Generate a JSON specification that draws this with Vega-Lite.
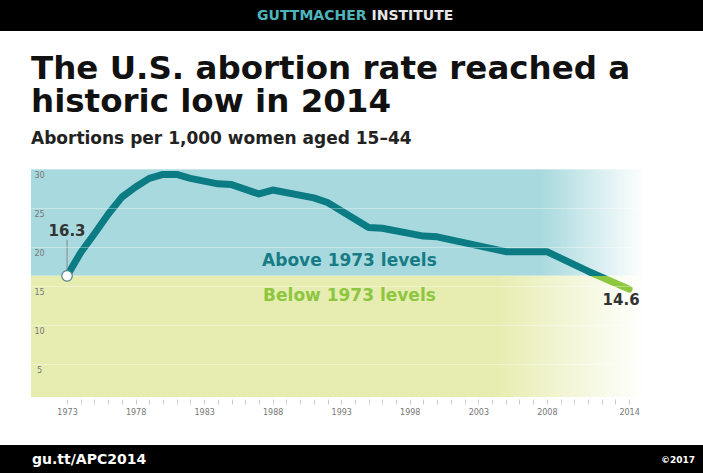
{
  "$schema": "https://vega.github.io/schema/vega-lite/v6.json",
  "background": "white",
  "padding": 0,
  "spacing": 21,
  "config": {"view": {"stroke": null}, "font": "DejaVu Sans"},
  "vconcat": [
    {
      "width": 703,
      "height": 31,
      "view": {"fill": "black", "stroke": null},
      "layer": [
        {
          "data": {"values": [{"t": "GUTTMACHER"}]},
          "mark": {"type": "text", "align": "right", "dx": 15, "font": "DejaVu Sans", "fontWeight": "bold", "fontSize": 14, "color": "#4db6bd"},
          "encoding": {"text": {"field": "t"}}
        },
        {
          "data": {"values": [{"t": "INSTITUTE"}]},
          "mark": {"type": "text", "align": "left", "dx": 20, "font": "DejaVu Sans", "fontWeight": "bold", "fontSize": 14, "color": "#e6e6e6"},
          "encoding": {"text": {"field": "t"}}
        }
      ]
    },
    {
      "width": 703,
      "height": 228,
      "title": {
        "text": ["The U.S. abortion rate reached a", "historic low in 2014"],
        "subtitle": "Abortions per 1,000 women aged 15–44",
        "anchor": "start",
        "frame": "group",
        "dx": 31,
        "offset": 22,
        "font": "DejaVu Sans",
        "fontSize": 32.5,
        "fontWeight": "bold",
        "lineHeight": 33,
        "color": "#111111",
        "subtitleFont": "DejaVu Sans",
        "subtitleFontSize": 17,
        "subtitleFontWeight": "bold",
        "subtitleColor": "#222222",
        "subtitlePadding": 13
      },
      "layer": [
        {
          "data": {"values": [{"zone": "Above 1973 levels", "low": 16.3, "high": 30}]},
          "mark": {"type": "rect", "clip": true, "fill": {"gradient": "linear", "x1": 0, "y1": 0, "x2": 1, "y2": 0, "stops": [{"offset": 0, "color": "#a8d9de"}, {"offset": 0.83, "color": "#a8d9de"}, {"offset": 1, "color": "#ffffff"}]}},
          "encoding": {
            "x": {"datum": 1970.37, "type": "quantitative", "scale": {"domain": [1968.11, 2019.39], "nice": false, "zero": false}, "axis": {"title": null}},
            "x2": {"datum": 2015.16},
            "y": {"field": "low", "type": "quantitative", "scale": {"domain": [0.77, 30], "nice": false, "zero": false}, "axis": {"title": null}},
            "y2": {"field": "high"}
          }
        },
        {
          "data": {"values": [{"zone": "Below 1973 levels", "low": 0, "high": 16.3}]},
          "mark": {"type": "rect", "clip": true, "fill": {"gradient": "linear", "x1": 0, "y1": 0, "x2": 1, "y2": 0, "stops": [{"offset": 0, "color": "#e7edb1"}, {"offset": 0.76, "color": "#e7edb1"}, {"offset": 1, "color": "#ffffff"}]}},
          "encoding": {
            "x": {"datum": 1970.37, "type": "quantitative", "axis": {"title": null}},
            "x2": {"datum": 2015.16},
            "y": {"field": "low", "type": "quantitative", "axis": {"title": null}},
            "y2": {"field": "high"}
          }
        },
        {
          "data": {"values": [{"label": "Above 1973 levels", "level": 16.3}]},
          "mark": {"type": "text", "dy": -15, "font": "DejaVu Sans", "fontWeight": "bold", "fontSize": 17, "color": "#177c85"},
          "encoding": {
            "x": {"datum": 1993.6, "type": "quantitative", "axis": {"title": null}},
            "y": {"field": "level", "type": "quantitative", "axis": {"title": null}},
            "text": {"field": "label"}
          }
        },
        {
          "data": {"values": [{"label": "Below 1973 levels", "level": 16.3}]},
          "mark": {"type": "text", "dy": 20, "font": "DejaVu Sans", "fontWeight": "bold", "fontSize": 17, "color": "#8dc63f"},
          "encoding": {
            "x": {"datum": 1993.6, "type": "quantitative", "axis": {"title": null}},
            "y": {"field": "level", "type": "quantitative", "axis": {"title": null}},
            "text": {"field": "label"}
          }
        },
        {
          "data": {"values": [
            {"year": 1973, "rate": 16.3}, {"year": 1974, "rate": 19.3}, {"year": 1975, "rate": 21.7},
            {"year": 1976, "rate": 24.2}, {"year": 1977, "rate": 26.4}, {"year": 1978, "rate": 27.7},
            {"year": 1979, "rate": 28.8}, {"year": 1980, "rate": 29.3}, {"year": 1981, "rate": 29.3},
            {"year": 1982, "rate": 28.8}, {"year": 1984, "rate": 28.1}, {"year": 1985, "rate": 28.0},
            {"year": 1987, "rate": 26.8}, {"year": 1988, "rate": 27.3}, {"year": 1991, "rate": 26.3},
            {"year": 1992, "rate": 25.7}, {"year": 1995, "rate": 22.5}, {"year": 1996, "rate": 22.4},
            {"year": 1999, "rate": 21.4}, {"year": 2000, "rate": 21.3}, {"year": 2005, "rate": 19.4},
            {"year": 2008, "rate": 19.4}, {"year": 2011, "rate": 16.9}, {"year": 2014, "rate": 14.6}
          ]},
          "mark": {
            "type": "line",
            "strokeWidth": 7,
            "strokeJoin": "round",
            "strokeCap": "round",
            "stroke": {"gradient": "linear", "x1": 0, "y1": 0, "x2": 0, "y2": 1, "stops": [{"offset": 0, "color": "#0b7b84"}, {"offset": 0.884, "color": "#0b7b84"}, {"offset": 0.886, "color": "#8dc63f"}, {"offset": 1, "color": "#8dc63f"}]}
          },
          "encoding": {
            "x": {
              "field": "year", "type": "quantitative",
              "axis": {
                "title": null,
                "values": [1973, 1974, 1975, 1976, 1977, 1978, 1979, 1980, 1981, 1982, 1983, 1984, 1985, 1986, 1987, 1988, 1989, 1990, 1991, 1992, 1993, 1994, 1995, 1996, 1997, 1998, 1999, 2000, 2001, 2002, 2003, 2004, 2005, 2006, 2007, 2008, 2009, 2010, 2011, 2012, 2013, 2014],
                "tickCount": 100,
                "format": "d",
                "labelExpr": "indexof([1973, 1978, 1983, 1988, 1993, 1998, 2003, 2008, 2014], datum.value) >= 0 ? datum.label : ''",
                "domain": false,
                "grid": false,
                "ticks": true,
                "tickSize": 5,
                "tickColor": "#cccccc",
                "offset": 2,
                "labelPadding": 4,
                "labelFont": "DejaVu Sans",
                "labelFontSize": 8,
                "labelColor": "#777777",
                "labelOverlap": false,
                "labelFlush": false,
                "minExtent": 25
              }
            },
            "y": {
              "field": "rate", "type": "quantitative",
              "axis": {
                "title": null,
                "values": [5, 10, 15, 20, 25, 30],
                "domain": false,
                "ticks": false,
                "tickSize": 0,
                "labelPadding": -39,
                "labelAlign": "center",
                "labelBaseline": "top",
                "labelOffset": 2,
                "labelFont": "DejaVu Sans",
                "labelFontSize": 8,
                "labelColor": "#777777",
                "grid": true,
                "gridColor": "#ffffff",
                "gridOpacity": 0.35,
                "zindex": 1,
                "minExtent": 0
              }
            }
          }
        },
        {
          "data": {"values": [{"year": 1973, "rate": 16.3}]},
          "mark": {"type": "rule", "color": "#8a8a8a", "strokeWidth": 1, "y2Offset": -36},
          "encoding": {
            "x": {"field": "year", "type": "quantitative", "axis": {"title": null}},
            "y": {"field": "rate", "type": "quantitative", "axis": {"title": null}},
            "y2": {"field": "rate"}
          }
        },
        {
          "data": {"values": [{"year": 1973, "rate": 16.3}]},
          "mark": {"type": "point", "filled": true, "fill": "#ffffff", "stroke": "#4f7f83", "strokeWidth": 1.2, "size": 110, "opacity": 1},
          "encoding": {
            "x": {"field": "year", "type": "quantitative", "axis": {"title": null}},
            "y": {"field": "rate", "type": "quantitative", "axis": {"title": null}}
          }
        },
        {
          "data": {"values": [{"year": 1973, "rate": 16.3}]},
          "mark": {"type": "text", "dy": -45, "font": "DejaVu Sans", "fontWeight": "bold", "fontSize": 15, "color": "#333333"},
          "encoding": {
            "x": {"field": "year", "type": "quantitative", "axis": {"title": null}},
            "y": {"field": "rate", "type": "quantitative", "axis": {"title": null}},
            "text": {"field": "rate", "type": "quantitative", "format": ".1f"}
          }
        },
        {
          "data": {"values": [{"year": 2014, "rate": 14.6}]},
          "mark": {"type": "text", "dx": -8, "dy": 11, "font": "DejaVu Sans", "fontWeight": "bold", "fontSize": 15, "color": "#333333"},
          "encoding": {
            "x": {"field": "year", "type": "quantitative", "axis": {"title": null}},
            "y": {"field": "rate", "type": "quantitative", "axis": {"title": null}},
            "text": {"field": "rate", "type": "quantitative", "format": ".1f"}
          }
        }
      ]
    },
    {
      "width": 703,
      "height": 30,
      "view": {"fill": "black", "stroke": null},
      "layer": [
        {
          "data": {"values": [{"t": "gu.tt/APC2014", "side": "left"}]},
          "mark": {"type": "text", "align": "left", "dx": 32, "font": "DejaVu Sans", "fontWeight": "bold", "fontSize": 14, "color": "#ffffff"},
          "encoding": {
            "x": {"field": "side", "type": "nominal", "scale": {"type": "point", "domain": ["left", "right"], "padding": 0}, "axis": null},
            "text": {"field": "t"}
          }
        },
        {
          "data": {"values": [{"t": "©2017", "side": "right"}]},
          "mark": {"type": "text", "align": "right", "dx": -8, "font": "DejaVu Sans", "fontWeight": "bold", "fontSize": 9, "color": "#ffffff"},
          "encoding": {
            "x": {"field": "side", "type": "nominal", "axis": null},
            "text": {"field": "t"}
          }
        }
      ]
    }
  ]
}
